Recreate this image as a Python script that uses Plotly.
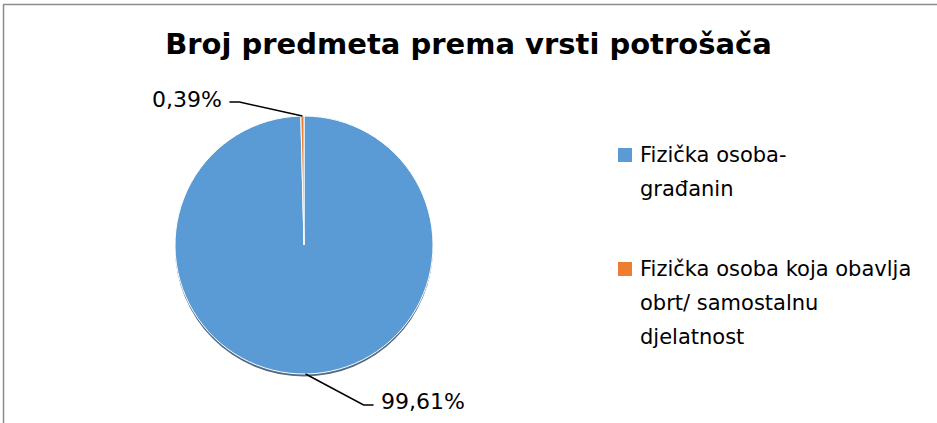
import math
import plotly.graph_objects as go

# ---- data ----
title_text = "Broj predmeta prema vrsti potrošača"
categories = ["Fizička osoba-<br>građanin",
              "Fizička osoba koja obavlja<br>obrt/ samostalnu<br>djelatnost"]
values = [99.61, 0.39]
value_labels = ["99,61%", "0,39%"]
colors = ["#5B9BD5", "#ED7D31"]

W, H = 937, 423
cx, cy, R = 304, 245, 129  # pie centre / radius in px


def px(x):
    return x / W


def py(y):
    return 1 - y / H


fig = go.Figure()
# soft shadow under the pie
fig.add_trace(go.Pie(
    labels=["shadow"], values=[1], sort=False, textinfo="none", hoverinfo="skip",
    marker=dict(colors=["rgba(40,70,100,0.8)"], line=dict(width=0)),
    showlegend=False,
    domain=dict(x=[px(cx - R), px(cx + R)], y=[py(cy + R + 2.5), py(cy - R + 2.5)]),
))
fig.add_trace(go.Pie(
    labels=categories, values=values, sort=False, direction="clockwise",
    rotation=0, marker=dict(colors=colors, line=dict(color="white", width=1)),
    textinfo="none", hoverinfo="label+percent", showlegend=False,
    domain=dict(x=[px(cx - R), px(cx + R)], y=[py(cy + R), py(cy - R)]),
))

shapes = []
annotations = []

# leader-line style offsets (pixels): elbow relative to attach point, text side
label_style = [
    dict(elbow=(58, 31), end=(10, 0), anchor="left"),
    dict(elbow=(-63, -14), end=(-10, 0), anchor="right"),
]
total = sum(values)
cum = 0
for v, lab, st in zip(values, value_labels, label_style):
    mid = (cum + v / 2) / total * 2 * math.pi
    cum += v
    ax = cx + R * math.sin(mid)
    ay = cy - R * math.cos(mid)
    ex, ey = ax + st["elbow"][0], ay + st["elbow"][1]
    tx, ty = ex + st["end"][0], ey + st["end"][1]
    path = f"M {px(ax)},{py(ay)} L {px(ex)},{py(ey)} L {px(tx)},{py(ty)}"
    shapes.append(dict(type="path", xref="paper", yref="paper", path=path,
                       line=dict(color="black", width=1.5)))
    annotations.append(dict(
        x=px(tx + (5 if st["anchor"] == "left" else -5)), y=py(ty - 3),
        xref="paper", yref="paper", text=lab, showarrow=False,
        xanchor=st["anchor"], yanchor="middle",
        font=dict(family="DejaVu Sans", size=22, color="black")))

# legend (drawn manually)
leg_x = 618
leg_tops = [148, 262]
line_gap = 34
for cat, col, top in zip(categories, colors, leg_tops):
    shapes.append(dict(type="rect", xref="paper", yref="paper",
                       x0=px(leg_x), x1=px(leg_x + 14), y0=py(top + 14), y1=py(top),
                       fillcolor=col, line=dict(width=0)))
    for i, ln in enumerate(cat.split("<br>")):
        annotations.append(dict(
            x=px(leg_x + 20), y=py(top + 7 + i * line_gap), xref="paper", yref="paper",
            text=ln, showarrow=False, xanchor="left", yanchor="middle", align="left",
            font=dict(family="DejaVu Sans", size=21, color="black")))

# chart border (top and left visible)
shapes.append(dict(type="line", xref="paper", yref="paper",
                   x0=px(3), x1=1, y0=py(4.5), y1=py(4.5),
                   line=dict(color="#8c8c8c", width=1.5)))
shapes.append(dict(type="line", xref="paper", yref="paper",
                   x0=px(3.5), x1=px(3.5), y0=py(4.5), y1=0,
                   line=dict(color="#8c8c8c", width=1.5)))

fig.update_layout(
    width=W, height=H, margin=dict(l=0, r=0, t=0, b=0),
    paper_bgcolor="white", plot_bgcolor="white",
    title=dict(text=f"<b>{title_text}</b>", x=0.5, xanchor="center",
               y=py(44), yanchor="middle",
               font=dict(family="DejaVu Sans", size=29, color="black")),
    shapes=shapes, annotations=annotations,
)

fig.write_html("out.html", config=dict(displayModeBar=False),
               post_script="document.body.style.margin='0';document.body.style.overflow='hidden';")
